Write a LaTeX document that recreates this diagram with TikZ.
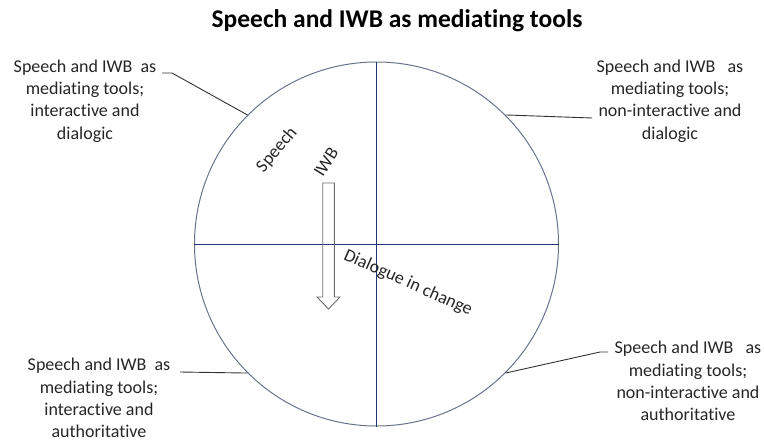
\documentclass[tikz,border=0pt]{standalone}
\usepackage{fontspec}
\setmainfont{Carlito}[Ligatures=NoCommon]
\usepackage{tikz}
\usetikzlibrary{positioning}

\definecolor{ringgray}{RGB}{105,115,140}
\definecolor{crossblue}{RGB}{35,55,120}
\definecolor{arrowgray}{RGB}{110,110,110}
\definecolor{leadgray}{RGB}{50,50,50}

\begin{document}
\begin{tikzpicture}[
    x=1pt, y=-1pt,
    note/.style={align=center, inner sep=0pt, font=\fontsize{18}{22.3}\selectfont, text=black!85},
    tag/.style={inner sep=0pt, font=\fontsize{18}{22}\selectfont, text=black!85},
    lead/.style={draw=leadgray, line width=0.9pt},
    cross/.style={draw=crossblue, line width=1pt}
]
\useasboundingbox (0,0) rectangle (764,442);

% --- Title ---
\node[font=\fontsize{25.5}{30}\selectfont\bfseries] (title) at (397,21)
  {Speech and IWB as mediating tools};

% --- Circle and quadrants ---
\node[circle, draw=ringgray, line width=1pt, inner sep=0pt, minimum size=364pt] (ring) at (376.5,244) {};
\draw[cross] (ring.north) -- (ring.south);
\draw[cross] (ring.west) -- (ring.east);

% --- Inner labels ---
\node[tag, rotate=50] (speech) at (277,150) {Speech};
\node[tag, rotate=58] (iwb) at (326,162) {IWB};
\node[tag, rotate=-24] (dialogue) at (408,283) {Dialogue in change};

% --- Block arrow ---
\draw[arrowgray, line width=0.9pt] (322.7,183) -- (334.3,183) -- (334.3,297) -- (340,297)
  -- (328.5,309) -- (317,297) -- (322.7,297) -- cycle;

% --- Quadrant notes ---
\node[note] (tlnote) at (85,101) {Speech and IWB\ \ as\\ mediating tools;\\ interactive and\\ dialogic};
\node[note] (trnote) at (670,101) {Speech and IWB\ \ \ as\\ mediating tools;\\ non-interactive and\\ dialogic};
\node[note] (blnote) at (99,398) {Speech and IWB\ \ as\\ mediating tools;\\ interactive and\\ authoritative};
\node[note] (brnote) at (688,381) {Speech and IWB\ \ \ as\\ mediating tools;\\ non-interactive and\\ authoritative};

% --- Leaders ---
\coordinate (tlfoot) at (162,73);
\coordinate (tlknee) at (172,73);
\coordinate (trfoot) at (592,118);
\coordinate (blfoot) at (180,372);
\coordinate (brknee) at (600,352);
\coordinate (brfoot) at (608,352);
\draw[lead] (tlfoot) -- (tlknee) -- (ring.135);
\draw[lead] (ring.45) -- (trfoot);
\draw[lead] (blfoot) -- (ring.225);
\draw[lead] (ring.315) -- (brknee) -- (brfoot);

\end{tikzpicture}
\end{document}
